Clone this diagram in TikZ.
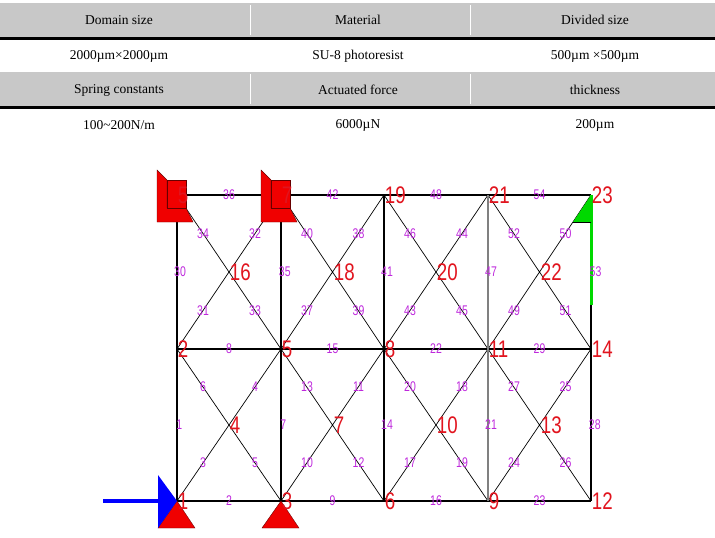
\documentclass[tikz,border=0pt]{standalone}
\usepackage{fontspec}
\setmainfont{Liberation Serif}
\newfontfamily\trussfont{Liberation Sans}
\definecolor{hdrgray}{RGB}{200,200,200}
\definecolor{supred}{RGB}{240,0,0}
\definecolor{lblmag}{RGB}{190,40,220}
\definecolor{nodered}{RGB}{225,20,30}
\tikzset{
  cell/.style={font=\fontsize{13.5}{13.5}\selectfont},
  jnt/.style={inner sep=0pt, minimum size=0pt},
  jlbl/.style={anchor=west, inner sep=1pt, text=nodered, xscale=0.78,
    font=\trussfont\fontsize{24}{24}\selectfont},
  mlbl/.style={inner sep=0pt, text=lblmag, xscale=0.75,
    font=\trussfont\fontsize{14}{14}\selectfont},
  bar/.style={black, line width=1.3pt},
  diag/.style={black, line width=0.7pt},
  supline/.style={draw=black!60!red, fill=supred}
}
\newcommand{\memb}[4][]{\path (#2) -- (#3) node[mlbl, midway, #1] {#4};}
\begin{document}
\begin{tikzpicture}[x=1pt, y=-1pt]
  \useasboundingbox (0,0) rectangle (715,538);
  % tabelle
  \fill[hdrgray] (0,3) rectangle (715,37);
  \fill[hdrgray] (0,72) rectangle (715,106);
  \draw[white, line width=1pt] (250,5) -- (250,35) (470,5) -- (470,35)
    (250,74) -- (250,104) (470,74) -- (470,104);
  \draw[black, line width=3pt] (0,38) -- (715,38);
  \draw[black, line width=3pt] (0,107) -- (715,107);
  \node[cell] (h1) at (119,20) {Domain size};
  \node[cell] (h2) at (358,20) {Material};
  \node[cell] (h3) at (595,20) {Divided size};
  \node[cell] (v1) at (119,56) {2000µm×2000µm};
  \node[cell] (v2) at (358,56) {SU-8 photoresist};
  \node[cell] (v3) at (595,56) {500µm ×500µm};
  \node[cell] (h4) at (119,90) {Spring constants};
  \node[cell] (h5) at (358,90) {Actuated force};
  \node[cell] (h6) at (595,90) {thickness};
  \node[cell] (v4) at (119,125) {100\textasciitilde200N/m};
  \node[cell] (v5) at (358,125) {6000µN};
  \node[cell] (v6) at (595,125) {200µm};
  % knoten
  \foreach \i/\x in {1/177,2/281,3/384,4/488,5/591} {
    \node[jnt] (b\i) at (\x,501) {};
    \node[jnt] (m\i) at (\x,349) {};
    \node[jnt] (t\i) at (\x,195) {};
  }
  \foreach \i/\x in {1/229,2/333,3/436,4/540} {
    \node[jnt] (cl\i) at (\x,425) {};
    \node[jnt] (cu\i) at (\x,272) {};
  }
  % staebe
  \draw[diag] (b1) -- (m2) (m1) -- (b2) (b2) -- (m3) (m2) -- (b3)
    (b3) -- (m4) (m3) -- (b4) (b4) -- (m5) (m4) -- (b5)
    (m1) -- (t2) (t1) -- (m2) (m2) -- (t3) (t2) -- (m3)
    (m3) -- (t4) (t3) -- (m4) (m4) -- (t5) (t4) -- (m5);
  \draw[bar] (b1) -- (b5) (m1) -- (m5) (t1) -- (t5);
  \draw[bar] (b1) -- (t1) (b2) -- (t2) (b3) -- (t3) (b5) -- (t5);
  \draw[gray, line width=1.3pt] (b4) -- (t4);
  % lager
  \foreach \i in {1,2} {
    \begin{scope}[shift={(b\i)}]
      \draw[supline] (0,0) -- (18,27) -- (-19,27) -- cycle;
    \end{scope}
    \begin{scope}[shift={(t\i)}]
      \draw[supline] (-20,-25) -- (-10,-15) -- (-10,13) -- (9,13)
        -- (16,27) -- (-20,27) -- cycle;
      \draw[supline] (-10,-15) rectangle (9,13);
    \end{scope}
  }
  % kraft und feder
  \coordinate (ftail) at (103,501);
  \coordinate (fhead) at ([xshift=-18pt]b1);
  \draw[blue, line width=4pt] (ftail) -- (fhead);
  \begin{scope}[shift={(b1)}]
    \fill[blue] (-19,-26) -- (0,0) -- (-19,27) -- cycle;
  \end{scope}
  \begin{scope}[shift={(t5)}]
    \draw[green!85!black, line width=3pt] (0,0) -- (0,110);
    \fill[green!85!black] (0,0) -- (0,27) -- (-18,27) -- cycle;
    \draw[black, line width=0.8pt] (0,27) -- (-18,27);
  \end{scope}
  % knotennummern
  \foreach \n/\t in {b1/1,b2/3,b3/6,b4/9,b5/12,m1/2,m2/5,m3/8,m4/11,m5/14,
      t1/5,t2/7,t3/19,t4/21,t5/23,cl1/4,cl2/7,cl3/10,cl4/13,
      cu1/16,cu2/18,cu3/20,cu4/22}
    \node[jlbl] at (\n) {\t};
  % stabnummern
  \memb{b1}{b2}{2} \memb{b2}{b3}{9} \memb{b3}{b4}{16} \memb{b4}{b5}{23}
  \memb{m1}{m2}{8} \memb{m2}{m3}{15} \memb{m3}{m4}{22} \memb{m4}{m5}{29}
  \memb{t1}{t2}{36} \memb{t2}{t3}{42} \memb{t3}{t4}{48} \memb{t4}{t5}{54}
  \memb[xshift=3pt]{b1}{m1}{1} \memb[xshift=3pt]{b2}{m2}{7}
  \memb[xshift=4pt]{b3}{m3}{14} \memb[xshift=4pt]{b4}{m4}{21}
  \memb[xshift=5pt]{b5}{m5}{28}
  \memb[xshift=4pt]{m1}{t1}{30} \memb[xshift=5pt]{m2}{t2}{35}
  \memb[xshift=4pt]{m3}{t3}{41} \memb[xshift=4pt]{m4}{t4}{47}
  \memb[xshift=6pt]{m5}{t5}{53}
  \memb{b1}{cl1}{3} \memb{cl1}{b2}{5} \memb{m1}{cl1}{6} \memb{cl1}{m2}{4}
  \memb{b2}{cl2}{10} \memb{cl2}{b3}{12} \memb{m2}{cl2}{13} \memb{cl2}{m3}{11}
  \memb{b3}{cl3}{17} \memb{cl3}{b4}{19} \memb{m3}{cl3}{20} \memb{cl3}{m4}{18}
  \memb{b4}{cl4}{24} \memb{cl4}{b5}{26} \memb{m4}{cl4}{27} \memb{cl4}{m5}{25}
  \memb{m1}{cu1}{31} \memb{cu1}{m2}{33} \memb{t1}{cu1}{34} \memb{cu1}{t2}{32}
  \memb{m2}{cu2}{37} \memb{cu2}{m3}{39} \memb{t2}{cu2}{40} \memb{cu2}{t3}{38}
  \memb{m3}{cu3}{43} \memb{cu3}{m4}{45} \memb{t3}{cu3}{46} \memb{cu3}{t4}{44}
  \memb{m4}{cu4}{49} \memb{cu4}{m5}{51} \memb{t4}{cu4}{52} \memb{cu4}{t5}{50}
\end{tikzpicture}
\end{document}
